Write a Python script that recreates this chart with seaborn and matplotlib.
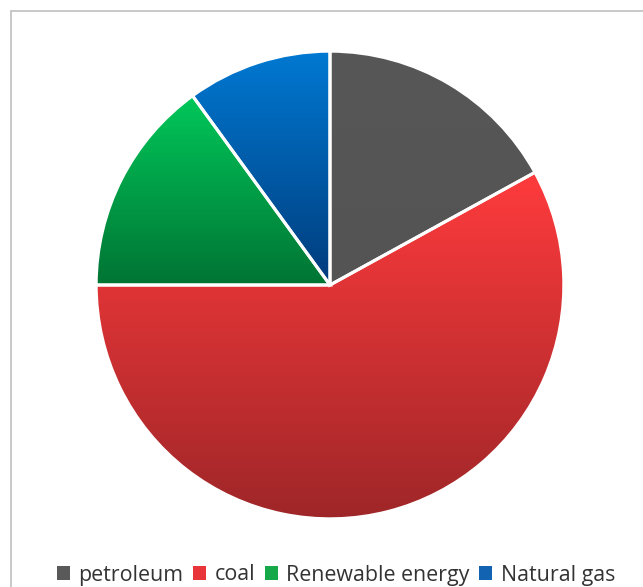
import numpy as np
import matplotlib
matplotlib.use('Agg')
import matplotlib.pyplot as plt
from matplotlib.patches import Patch, Rectangle
import seaborn as sns

# data
labels = ['petroleum', 'coal', 'Renewable energy', 'Natural gas']
shares = [17, 58, 15, 10]
top_colors = ['#575757', '#FF3B3D', '#00C85A', '#0079D2']
bottom_colors = ['#545454', '#9E2628', '#007434', '#003C7C']
legend_colors = ['#595959', '#E8353A', '#16A94A', '#1363B3']

sns.set_theme(style='white')
plt.rcParams['font.family'] = ['Open Sans', 'DejaVu Sans']

fig = plt.figure(figsize=(6.43, 5.87), dpi=100)
ax = fig.add_axes([95 / 643, 67 / 587, 470 / 643, 470 / 587])

wedges, _ = ax.pie(shares, startangle=90, counterclock=False,
                   colors=top_colors, radius=1,
                   wedgeprops=dict(linewidth=0))

# vertical gradient inside each slice, light at top, dark at bottom
grad = np.linspace(0, 1, 256).reshape(-1, 1)
for w, c1, c2 in zip(wedges, top_colors, bottom_colors):
    verts = w.get_path().vertices
    x0, x1 = verts[:, 0].min(), verts[:, 0].max()
    y0, y1 = verts[:, 1].min(), verts[:, 1].max()
    cmap = sns.blend_palette([c1, c2], n_colors=256, as_cmap=True)
    im = ax.imshow(grad, cmap=cmap, extent=[x0, x1, y0, y1], origin='upper',
                   aspect='auto', zorder=2, interpolation='bilinear')
    im.set_clip_path(w)

# white separators
ax.pie(shares, startangle=90, counterclock=False, radius=1,
       wedgeprops=dict(fill=False, edgecolor='white', linewidth=2.2, zorder=3))

ax.set_xlim(-1.005, 1.005)
ax.set_ylim(-1.005, 1.005)
ax.set_aspect('auto')
ax.axis('off')

# frame
fig.patches.append(Rectangle((11 / 643, -0.1), 1.2, 1.1 - 11 / 587,
                             transform=fig.transFigure, fill=False,
                             edgecolor='#C4C4C4', linewidth=1.3))

handles = [Patch(facecolor=c, edgecolor='none') for c in legend_colors]
fig.legend(handles, labels, loc='center', bbox_to_anchor=(336 / 643, 1 - 575 / 587),
           ncol=4, frameon=False, fontsize=15.4, handlelength=0.6,
           handleheight=0.6, handletextpad=0.4, columnspacing=0.45,
           labelcolor='#333333')

fig.savefig('out.png', dpi=100)
